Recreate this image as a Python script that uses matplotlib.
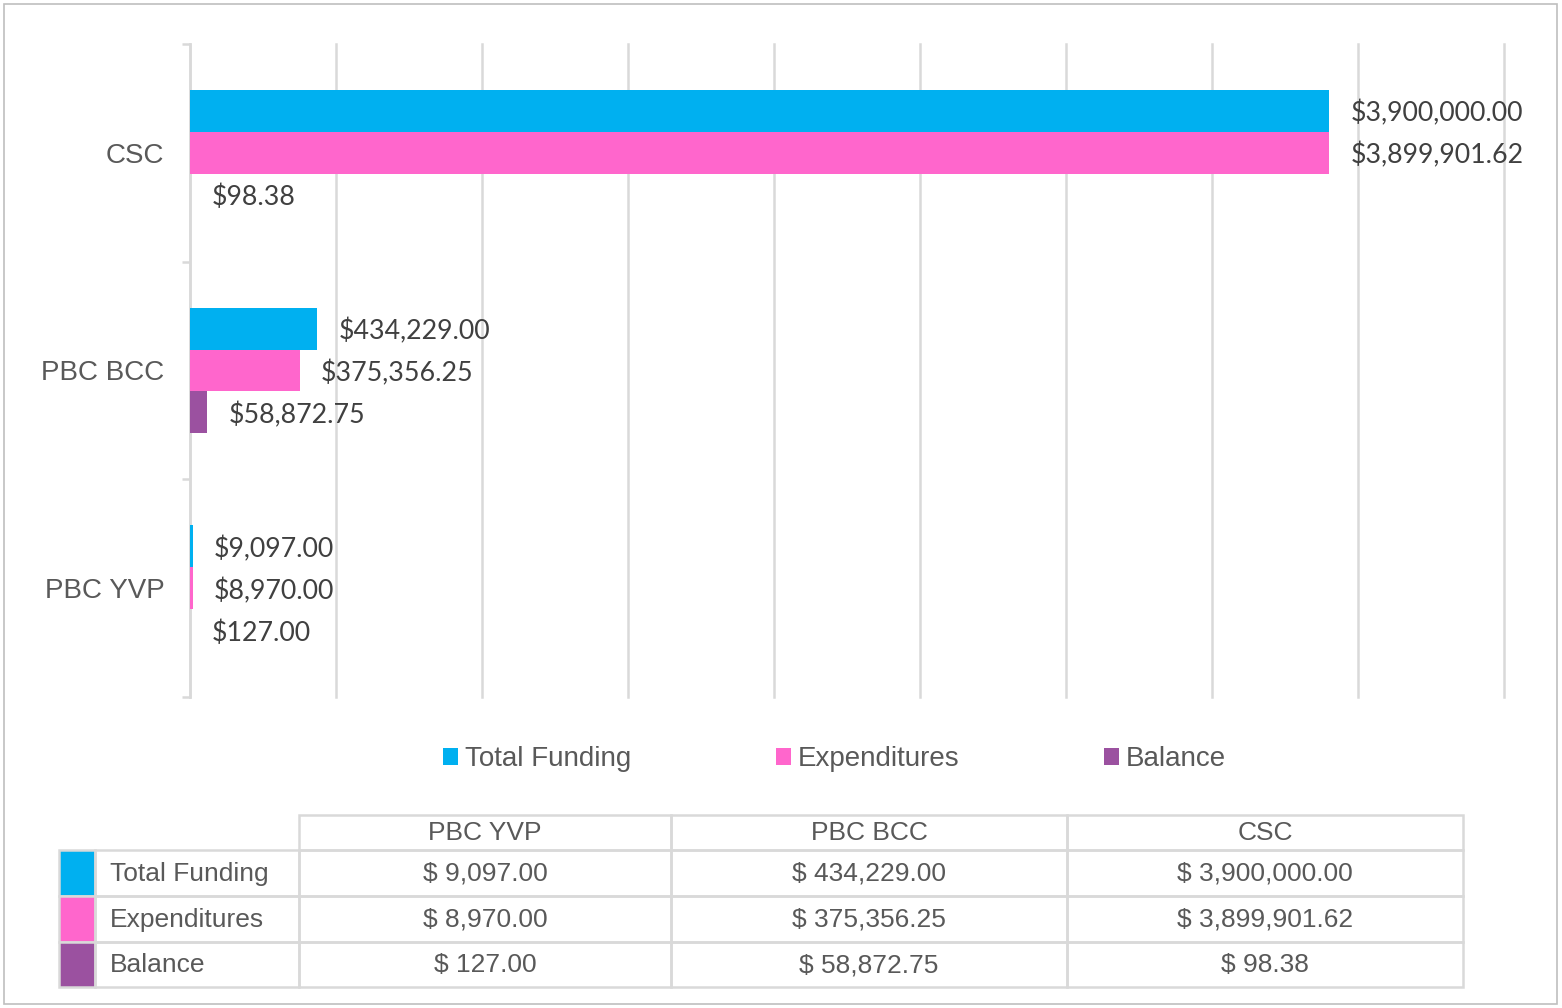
import matplotlib.pyplot as plt
from matplotlib.patches import Rectangle
import numpy as np

# ---------------- DATA ----------------
categories = ["PBC YVP", "PBC BCC", "CSC"]
series_names = ["Total Funding", "Expenditures", "Balance"]
total_funding = [9097.00, 434229.00, 3900000.00]
expenditures = [8970.00, 375356.25, 3899901.62]
balance = [127.00, 58872.75, 98.38]
colors = ["#00B0F0", "#FF66CC", "#9B51A0"]

W, H = 1562, 1008
GRID = "#d9d9d9"
TXT = "#595959"
LBL = "#404040"

plt.rcParams['font.family'] = ['Liberation Sans', 'DejaVu Sans']

fig = plt.figure(figsize=(W / 100, H / 100), dpi=100)

# outer border
fig.patches.append(Rectangle((4 / W, 4 / H), 1553 / W, 1000 / H, transform=fig.transFigure,
                             fill=False, edgecolor="#bfbfbf", linewidth=1.2))

# ---------------- BAR CHART ----------------
ax = fig.add_axes([190 / W, 1 - 697 / H, (1504 - 190) / W, (697 - 44) / H])
y = np.arange(len(categories))
h = 42 / 218
all_series = [total_funding, expenditures, balance]
offsets = [h, 0, -h]
bars = []
for vals, off, col, name in zip(all_series, offsets, colors, series_names):
    b = ax.barh(y + off, vals, height=h, color=col, label=name, zorder=3)
    bars.append(b)
    for yy, v in zip(y + off, vals):
        ax.annotate(f"${v:,.2f}", (v, yy), xytext=(15.5, -2), textcoords="offset points",
                    ha="left", va="center", fontsize=19.3, color=LBL, family=["Lato", "DejaVu Sans"])

ax.set_xlim(0, 4500000)
ax.set_ylim(-0.5, 2.5)
ax.set_xticks(np.arange(0, 4500001, 500000))
ax.xaxis.set_tick_params(length=0, labelbottom=False)
ax.grid(axis="x", color=GRID, linewidth=1.8, zorder=0)
for gl in ax.get_xgridlines():
    gl.set_clip_on(False)
for s in ["top", "right", "bottom"]:
    ax.spines[s].set_visible(False)
ax.spines["left"].set_color(GRID)
ax.spines["left"].set_linewidth(1.8)
ax.set_yticks(y)
ax.set_yticklabels(categories, fontsize=20, color=TXT)
ax.tick_params(axis="y", which="major", length=0, pad=18.5)
ax.set_yticks([-0.5, 0.5, 1.5, 2.5], minor=True)
ax.tick_params(axis="y", which="minor", length=5.8, width=1.8, color=GRID)

# ---------------- LEGEND ----------------
fig.legend(handles=bars, labels=series_names, loc="center",
           bbox_to_anchor=(834.5 / W, 1 - 759 / H), ncol=3, frameon=False,
           fontsize=20, labelcolor=TXT, handlelength=0.55, handleheight=0.55,
           handletextpad=0.25, columnspacing=5.2, borderpad=0)

# ---------------- DATA TABLE ----------------
tab = fig.add_axes([0, 0, 1, 1])
tab.set_xlim(0, W)
tab.set_ylim(H, 0)
tab.set_axis_off()

col_x = [299, 671, 1067, 1463]
row_y = [815, 850, 896, 942, 987]
key_x0, key_x1, head_x0 = 59, 95, 95

def cell(x0, y0, x1, y1, face="none"):
    tab.add_patch(Rectangle((x0, y0), x1 - x0, y1 - y0, facecolor=face,
                            edgecolor=GRID, linewidth=1.8))

for j, cat in enumerate(categories):
    cell(col_x[j], row_y[0], col_x[j + 1], row_y[1])
    tab.text((col_x[j] + col_x[j + 1]) / 2, (row_y[0] + row_y[1]) / 2 + 1, cat,
             ha="center", va="center", fontsize=19, color=TXT)

for i, (name, vals, col) in enumerate(zip(series_names, all_series, colors)):
    y0, y1 = row_y[i + 1], row_y[i + 2]
    cell(key_x0, y0, key_x1, y1, face=col)
    cell(head_x0, y0, col_x[0], y1)
    tab.text(110, (y0 + y1) / 2 + 1, name, ha="left", va="center", fontsize=19, color=TXT)
    for j, v in enumerate(vals):
        cell(col_x[j], y0, col_x[j + 1], y1)
        tab.text((col_x[j] + col_x[j + 1]) / 2, (y0 + y1) / 2 + 1, f"$ {v:,.2f}",
                 ha="center", va="center", fontsize=19, color=TXT)

fig.savefig("out.png", dpi=100)
